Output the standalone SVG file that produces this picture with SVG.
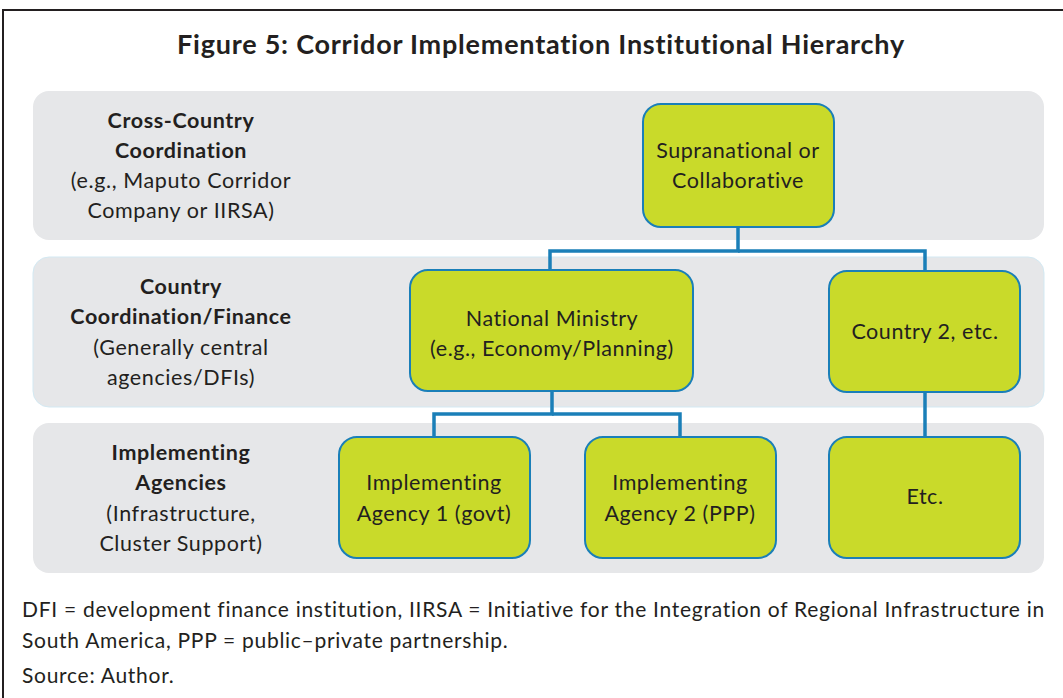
<svg xmlns="http://www.w3.org/2000/svg" width="1063" height="698" viewBox="0 0 1063 698">
<style>
  text { font-family: Lato, "Open Sans", "Liberation Sans", sans-serif; fill: #231f20; }
  .title { font-size: 27px; font-weight: bold; text-anchor: middle; letter-spacing: 0.77px; }
  .band { fill: #e6e7e9; }
  .band2 { fill: #e6e7e9; stroke: #d3e9f3; stroke-width: 1; }
  .node rect { fill: #c9da2a; stroke: #1a7fb8; stroke-width: 2; }
  .node text { font-size: 21.5px; text-anchor: middle; letter-spacing: 0.55px; }
  .lab { font-size: 21.5px; text-anchor: middle; letter-spacing: 0.6px; }
  .lab .b { font-weight: bold; }
  .conn path { fill: none; stroke: #1a7fb8; stroke-width: 3.5; }
  .foot { font-size: 21px; letter-spacing: 0.72px; }
</style>
<rect x="0" y="0" width="1063" height="698" fill="#ffffff"/>
<path d="M3 698 V10 H1063" fill="none" stroke="#231f20" stroke-width="2"/>
<text class="title" x="541" y="54">Figure 5: Corridor Implementation Institutional Hierarchy</text>

<g id="bands">
  <rect class="band" x="33" y="91" width="1011" height="149" rx="16"/>
  <rect class="band2" x="33" y="257" width="1011" height="150" rx="16"/>
  <rect class="band" x="33" y="423" width="1011" height="150" rx="16"/>
</g>

<g id="row-labels" class="lab">
  <text x="181" y="128"><tspan class="b">Cross-Country</tspan></text>
  <text x="181" y="158"><tspan class="b">Coordination</tspan></text>
  <text x="181" y="188">(e.g., Maputo Corridor</text>
  <text x="181" y="218">Company or IIRSA)</text>
  <text x="181" y="294"><tspan class="b">Country</tspan></text>
  <text x="181" y="324"><tspan class="b">Coordination/Finance</tspan></text>
  <text x="181" y="355">(Generally central</text>
  <text x="181" y="385">agencies/DFIs)</text>
  <text x="181" y="460"><tspan class="b">Implementing</tspan></text>
  <text x="181" y="490"><tspan class="b">Agencies</tspan></text>
  <text x="181" y="521">(Infrastructure,</text>
  <text x="181" y="551">Cluster Support)</text>
</g>

<g id="connectors" class="conn">
  <path d="M738 227 V251 H550 V271"/>
  <path d="M738 251 H925 V271"/>
  <path d="M552 391 V414 H434 V437"/>
  <path d="M552 414 H680 V437"/>
  <path d="M925 392 V437"/>
</g>

<g id="supranational" class="node">
  <rect x="643" y="104" width="191" height="123" rx="18"/>
  <text x="738" y="158">Supranational or</text>
  <text x="738" y="188">Collaborative</text>
</g>
<g id="national-ministry" class="node">
  <rect x="410" y="270" width="283" height="121" rx="18"/>
  <text x="552" y="326">National Ministry</text>
  <text x="552" y="356">(e.g., Economy/Planning)</text>
</g>
<g id="country2" class="node">
  <rect x="829" y="271" width="191" height="121" rx="18"/>
  <text x="925" y="339">Country 2, etc.</text>
</g>
<g id="agency1" class="node">
  <rect x="339" y="437" width="191" height="121" rx="18"/>
  <text x="434" y="490">Implementing</text>
  <text x="434" y="521">Agency 1 (govt)</text>
</g>
<g id="agency2" class="node">
  <rect x="585" y="437" width="191" height="121" rx="18"/>
  <text x="680" y="490">Implementing</text>
  <text x="680" y="521">Agency 2 (PPP)</text>
</g>
<g id="etc" class="node">
  <rect x="829" y="437" width="191" height="121" rx="18"/>
  <text x="925" y="504">Etc.</text>
</g>

<g id="footer" class="foot">
  <text class="foot" x="22" y="617">DFI = development finance institution, IIRSA = Initiative for the Integration of Regional Infrastructure in</text>
  <text class="foot" x="22" y="648">South America, PPP = public–private partnership.</text>
  <text class="foot" x="22" y="683">Source: Author.</text>
</g>
</svg>
